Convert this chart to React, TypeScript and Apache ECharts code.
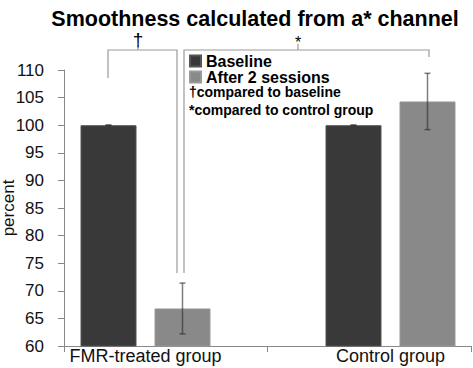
import React, { useEffect, useRef } from "react";
import * as echarts from "echarts";

const categories = ["FMR-treated group", "Control group"];
const seriesNames = ["Baseline", "After 2 sessions"];
const baselineValues = [100, 100];
const baselineErrors = [0.05, 0.05];
const afterValues = [66.8, 104.3];
const afterErrors = [4.6, 5.1];
const yTicks = { min: 60, max: 110, interval: 5 };
const footnotes = ["\u2020compared to baseline", "*compared to control group"];

const BAR_W = 56;
const BAR_GAP = 18;

export default function App() {
  const ref = useRef<HTMLDivElement>(null);
  useEffect(() => {
    if (!ref.current) return;
    const chart = echarts.init(ref.current, undefined, { renderer: "svg" });
    const half = (BAR_W + BAR_GAP) / 2;
    const errData: number[][] = [];
    categories.forEach((_, i) => {
      errData.push([i, baselineValues[i], baselineErrors[i], 0]);
      errData.push([i, afterValues[i], afterErrors[i], 1]);
    });
    const font = "'Liberation Sans', Arial, sans-serif";
    const bracketColor = "#9a9a9a";
    chart.setOption({
      animation: false,
      title: {
        text: "Smoothness calculated from a* channel",
        left: 250,
        textAlign: "center",
        top: 3,
        textStyle: { fontFamily: font, fontWeight: "bold", fontSize: 21.5, color: "#000" },
      },
      legend: {
        data: seriesNames,
        orient: "vertical",
        left: 189,
        top: 53,
        itemWidth: 11,
        itemHeight: 11,
        itemGap: 0,
        padding: 0,
        icon: "rect",
        textStyle: { fontFamily: font, fontWeight: "bold", fontSize: 16, color: "#000", lineHeight: 16 },
      },
      grid: [
        { left: 23, width: 490, top: 70, bottom: 22, outerBoundsMode: "none", containLabel: false },
        { left: 64, right: 2, top: 70, bottom: 22, outerBoundsMode: "none", containLabel: false },
      ],
      xAxis: [
        {
          type: "category",
          gridIndex: 0,
          data: categories,
          axisLine: { show: false },
          axisTick: { show: false },
          axisLabel: { fontFamily: font, fontSize: 18, color: "#111", margin: 1 },
        },
        {
          type: "category",
          gridIndex: 1,
          data: ["", ""],
          axisLine: { lineStyle: { color: "#888", width: 1 } },
          axisTick: { show: true, length: 6, lineStyle: { color: "#888" } },
          axisLabel: { show: false },
        },
      ],
      yAxis: [
        {
          type: "value",
          gridIndex: 0,
          min: yTicks.min,
          max: yTicks.max,
          interval: yTicks.interval,
          show: false,
        },
        {
          type: "value",
          gridIndex: 1,
          min: yTicks.min,
          max: yTicks.max,
          interval: yTicks.interval,
          name: "percent",
          nameLocation: "middle",
          nameGap: 47,
          nameMoveOverlap: false,
          nameTextStyle: { fontFamily: font, fontSize: 17, color: "#111" },
          axisLine: { show: true, lineStyle: { color: "#888" } },
          axisTick: { show: true, length: 6, lineStyle: { color: "#888" } },
          axisLabel: { fontFamily: font, fontSize: 17, color: "#111", margin: 20 },
          splitLine: { show: false },
        },
      ],
      series: [
        {
          name: seriesNames[0],
          type: "bar",
          xAxisIndex: 0,
          yAxisIndex: 0,
          data: baselineValues,
          barWidth: BAR_W,
          barGap: `${(BAR_GAP / BAR_W) * 100}%`,
          itemStyle: { color: "#393939", borderColor: "#555", borderWidth: 1 },
        },
        {
          name: seriesNames[1],
          type: "bar",
          xAxisIndex: 0,
          yAxisIndex: 0,
          data: afterValues,
          barWidth: BAR_W,
          barGap: `${(BAR_GAP / BAR_W) * 100}%`,
          itemStyle: { color: "#898989", borderColor: "#999", borderWidth: 1 },
        },
        {
          type: "custom",
          xAxisIndex: 0,
          yAxisIndex: 0,
          data: errData,
          z: 10,
          renderItem: (params: any, api: any) => {
            const cat = api.value(0);
            const mean = api.value(1);
            const err = api.value(2);
            const s = api.value(3);
            const c = api.coord([cat, mean]);
            const x = c[0] + (s === 0 ? -half : half);
            const top = api.coord([cat, mean + err])[1];
            const bot = api.coord([cat, mean - err])[1];
            const style = { stroke: "rgba(40,40,40,0.6)", lineWidth: 1.5 };
            return {
              type: "group",
              children: [
                { type: "line", shape: { x1: x, y1: top, x2: x, y2: bot }, style },
                { type: "line", shape: { x1: x - 3, y1: top, x2: x + 3, y2: top }, style },
                { type: "line", shape: { x1: x - 3, y1: bot, x2: x + 3, y2: bot }, style },
              ],
            };
          },
        },
      ],
      graphic: [
        { type: "polyline", shape: { points: [[108, 78], [108, 50], [177, 50], [177, 273]] }, style: { stroke: bracketColor, lineWidth: 1.2, fill: "none" } },
        { type: "polyline", shape: { points: [[184, 273], [184, 50], [429, 50], [429, 57]] }, style: { stroke: bracketColor, lineWidth: 1.2, fill: "none" } },
        { type: "line", shape: { x1: 138, y1: 45, x2: 138, y2: 50 }, style: { stroke: bracketColor, lineWidth: 1.2 } },
        { type: "line", shape: { x1: 298, y1: 44, x2: 298, y2: 50 }, style: { stroke: bracketColor, lineWidth: 1.2 } },
        { type: "text", x: 138, y: 30, style: { text: "\u2020", fontFamily: font, fontSize: 19, fill: "#000", align: "center" } },
        { type: "text", x: 298, y: 34, style: { text: "*", fontFamily: font, fontSize: 16, fill: "#000", align: "center" } },
        { type: "text", x: 189, y: 85, style: { text: footnotes[0], fontFamily: font, fontWeight: "bold", fontSize: 14, fill: "#000" } },
        { type: "text", x: 189, y: 103, style: { text: footnotes[1], fontFamily: font, fontWeight: "bold", fontSize: 14, fill: "#000" } },
      ],
    });
    return () => chart.dispose();
  }, []);
  return <div ref={ref} style={{ width: 473, height: 368, position: "absolute", left: 0, top: 0 }} />;
}
